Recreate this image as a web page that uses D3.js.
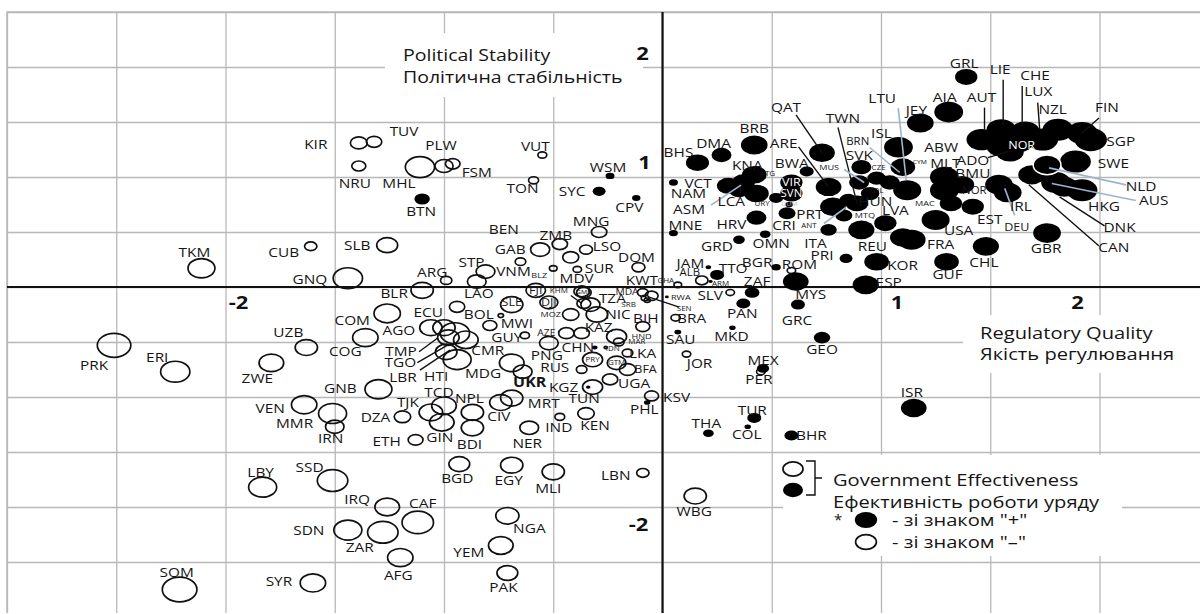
<!DOCTYPE html>
<html><head><meta charset="utf-8">
<script src="https://cdn.jsdelivr.net/npm/d3@7"></script>
<style>
body{margin:0;background:#fff}
svg{display:block}
text{font-family:"Open Sans","DejaVu Sans",sans-serif;fill:#151515}
</style>
</head><body>
<svg id="chart" width="1200" height="614"></svg>
<script>
// ---------- DATA ----------
// [country code, Regulatory Quality, Political Stability, |Government Effectiveness|]
// Government Effectiveness with sign "-" (open markers)
const govEffNegative = [
["PRK",-2.51,-0.53,2.18],["ERI",-2.23,-0.77,1.90],["TKM",-2.11,0.17,1.75],["CUB",-1.61,0.37,0.80],
["GNQ",-1.44,0.08,1.90],["SLB",-1.26,0.38,1.36],["KIR",-1.39,1.31,1.09],["TUV",-1.32,1.32,1.00],
["NRU",-1.39,1.10,0.91],["MHL",-1.11,1.09,1.90],["PLW",-1.00,1.10,1.18],["FSM",-0.96,1.12,0.95],
["VUT",-0.55,1.20,0.58],["TON",-0.59,0.97,0.65],["MNG",-0.29,0.50,1.00],["ZMB",-0.47,0.39,1.00],
["BEN",-0.42,0.27,1.04],["GAB",-0.56,0.34,1.24],["LSO",-0.35,0.34,0.84],["DOM",-0.11,0.18,0.84],
["BLZ",-0.50,0.17,0.50],["SUR",-0.39,0.16,0.55],["STP",-0.81,0.14,1.22],["LAO",-0.85,0.05,1.22],
["VNM",-0.65,0.23,0.69],["ARG",-0.99,0.06,0.73],["BLR",-1.10,-0.03,1.45],["FJI",-0.58,-0.03,1.27],
["DJI",-0.52,-0.14,1.16],["SLE",-0.69,-0.16,1.45],["ECU",-0.94,-0.18,1.00],["COM",-1.26,-0.24,1.71],
["COG",-1.36,-0.46,1.65],["AGO",-1.06,-0.37,1.45],["TMP",-1.00,-0.37,1.45],["LBR",-0.95,-0.42,1.90],
["TGO",-0.98,-0.46,1.40],["CMR",-0.90,-0.48,1.60],["MDG",-0.94,-0.66,1.82],["HTI",-0.99,-0.59,1.40],
["BOL",-0.74,-0.26,0.35],["MWI",-0.79,-0.35,0.91],["UZB",-1.63,-0.55,1.45],["ZWE",-1.79,-0.69,1.60],
["GNB",-1.30,-0.93,1.75],["VEN",-1.64,-1.07,1.65],["MMR",-1.51,-1.15,1.82],["IRN",-1.50,-1.27,1.20],
["DZA",-1.19,-1.18,1.07],["ETH",-1.13,-1.39,0.96],["TJK",-1.06,-1.14,1.53],["TCD",-1.00,-1.08,1.60],
["GIN",-1.01,-1.23,1.60],["NPL",-0.87,-1.14,1.45],["BDI",-0.87,-1.28,1.45],["CIV",-0.74,-1.05,1.45],
["MRT",-0.69,-1.01,1.45],["NER",-0.61,-1.28,1.22],["IND",-0.47,-1.18,0.64],["KEN",-0.35,-1.15,1.07],
["BGD",-0.93,-1.61,1.35],["EGY",-0.69,-1.62,1.45],["MLI",-0.50,-1.68,1.45],["LBN",-0.09,-1.69,0.80],
["NGA",-0.71,-2.08,1.51],["YEM",-0.74,-2.35,1.60],["PAK",-0.71,-2.60,1.35],["WBG",0.15,-1.90,1.45],
["LBY",-1.83,-1.82,1.82],["SSD",-1.51,-1.76,1.98],["IRQ",-1.26,-2.00,1.60],["SDN",-1.44,-2.21,1.82],
["ZAR",-1.28,-2.23,1.98],["CAF",-1.12,-2.14,2.04],["AFG",-1.20,-2.46,1.65],["SOM",-2.21,-2.75,2.25],
["SYR",-1.60,-2.69,1.65],["KSV",-0.05,-0.99,0.91],["UGA",-0.24,-0.84,1.00],["KGZ",-0.32,-0.91,1.30],
["BFA",-0.16,-0.75,1.07],["GTM",-0.21,-0.69,1.22],["PRY",-0.32,-0.66,1.30],["LKA",-0.16,-0.60,0.69],
["RUS",-0.69,-0.69,1.60],["UKR",-0.64,-0.77,1.22],["SWZ",-0.37,-0.75,0.69],["PNG",-0.52,-0.51,1.22],
["GUY",-0.63,-0.44,0.60],["AZE",-0.44,-0.42,1.00],["KAZ",-0.37,-0.42,1.00],["MOZ",-0.42,-0.25,1.07],
["TZA",-0.33,-0.16,1.24],["NIC",-0.30,-0.25,1.40],["MDV",-0.37,-0.04,1.00],["GMB",-0.36,-0.05,0.95],
["KHM",-0.36,-0.15,0.90],["MDA",-0.08,-0.10,0.50],["KWT",-0.09,-0.05,0.69],["SRB",-0.05,-0.08,0.84],
["SEN",-0.07,-0.12,0.40],["BIH",-0.09,-0.36,0.91],["HND",-0.21,-0.45,1.30],["MAR",-0.20,-0.50,0.69],
["IDN",-0.26,-0.55,0.20],["BRA",0.06,-0.28,0.60],["JOR",0.11,-0.61,0.55],["ALB",0.18,0.06,0.80],
["GHA",0.07,0.02,0.50],["SLV",0.31,-0.05,0.55],["ROM",0.59,0.15,0.55],["PER",0.45,-0.77,0.55]
];
// Government Effectiveness with sign "+" (filled markers)
const govEffPositive = [
["BTN",-1.10,0.80,1.00],["WSM",-0.24,1.01,0.58],["SYC",-0.29,0.87,0.84],["CPV",-0.12,0.81,0.55],
["PHL",-0.07,-1.05,0.42],["TUN",-0.34,-0.91,0.30],["RWA",0.02,-0.09,0.25],["CHN",-0.31,-0.55,0.36],
["SAU",0.07,-0.41,0.45],["PAN",0.37,-0.15,0.91],["MKD",0.32,-0.37,0.42],["MEX",0.46,-0.74,0.80],
["TUR",0.42,-1.19,0.91],["COL",0.39,-1.27,0.42],["THA",0.21,-1.33,0.69],["BHR",0.59,-1.35,0.91],
["ISR",1.15,-1.10,1.67],["GEO",0.73,-0.46,1.07],["GRC",0.62,-0.16,0.91],["MYS",0.61,0.05,1.67],
["ZAF",0.41,-0.05,0.96],["TTO",0.25,0.11,0.91],["JAM",0.21,0.18,0.36],["ARM",0.22,0.05,0.27],
["BGR",0.52,0.18,0.60],["GRD",0.35,0.43,0.76],["OMN",0.47,0.48,0.69],["MNE",0.05,0.49,0.58],
["NAM",0.05,0.95,0.58],["VCT",0.30,0.92,1.45],["HRV",0.43,0.63,1.30],["BHS",0.16,1.13,1.50],
["DMA",0.27,1.20,1.30],["BRB",0.42,1.29,1.73],["LCA",0.37,0.95,1.50],["KNA",0.42,1.02,1.60],
["ATG",0.43,0.85,1.60],["ASM",0.35,0.88,1.30],["URY",0.52,0.81,0.91],["BWA",0.66,1.05,0.91],
["VIR",0.59,0.95,1.45],["SVN",0.59,0.85,1.45],["GUM",0.58,0.75,0.50],["PRT",0.78,0.73,1.67],
["CRI",0.57,0.67,1.10],["ANT",0.83,0.65,1.10],["ITA",0.76,0.52,1.07],["PRI",0.84,0.26,0.84],
["QAT",0.73,1.22,1.67],["ARE",0.76,0.91,1.67],["TWN",0.89,0.76,1.45],["MUS",0.90,0.95,1.30],
["POL",0.95,0.85,1.20],["HUN",0.85,0.79,1.15],["SVK",0.91,1.09,1.30],["CZE",0.98,0.99,1.20],
["BRN",1.04,0.95,1.30],["LTU",1.12,0.88,1.82],["CYM",1.10,1.09,1.60],["ISL",1.08,1.27,1.87],
["JEY",1.18,1.49,1.73],["AIA",1.31,1.59,1.87],["GRL",1.39,1.91,1.45],["ABW",1.55,1.28,1.90],
["MLT",1.29,1.00,1.87],["NOR2",1.29,0.88,1.87],["MAC",1.32,0.76,1.45],["BMU",1.37,0.93,1.60],
["ADO",1.59,1.23,1.80],["EST",1.42,0.73,1.45],["USA",1.25,0.61,1.82],["FRA",1.14,0.43,1.82],
["LVA",1.02,0.58,1.45],["MTQ",1.10,0.45,1.67],["REU",0.91,0.52,1.70],["KOR",0.98,0.23,1.60],
["ESP",0.93,0.02,1.70],["GUF",1.30,0.23,1.60],["CHL",1.48,0.37,1.70],["GBR",1.76,0.49,1.80],
["IRL",1.54,0.93,1.80],["DEU",1.58,0.86,1.80],["AUT",1.46,1.34,1.95],["LIE",1.55,1.43,1.90],
["NOR",1.63,1.32,1.90],["LUX",1.66,1.41,1.90],["NZL",1.74,1.34,2.00],["CHE",1.81,1.43,2.00],
["FIN",1.92,1.40,2.00],["SGP",1.96,1.34,2.10],["SWE",1.89,1.14,2.00],["CAN",1.69,1.02,1.75],
["AUS",1.80,0.95,1.90],["DNK",1.84,0.91,1.80],["HKG",1.92,0.88,2.00],["NLD",1.76,1.11,1.80]
];
const xTickLabels = [-2, 1, 2];
const yTickLabels = [2, 1, -2];
const gridStep = 0.5;
const xTitle = ["Regulatory Quality", "Якість регулювання"];
const yTitle = ["Political Stability", "Політична стабільність"];
const legendTitle = ["Government Effectiveness", "Ефективність роботи уряду"];
const legendItems = ["- зі знаком \"+\"", "- зі знаком \"–\""];

// ---------- LAYOUT (label placement, px offsets from marker centre) ----------
const labelOffsets = {
PRK:[-20,20],ERI:[-18,-14],TKM:[-7,-16],CUB:[-27,6],GNQ:[-38,1],SLB:[-30,0],KIR:[-43,1],TUV:[30,-11],
NRU:[-4,17],MHL:[-21,16],PLW:[-3,-21],FSM:[24,8],BTN:[-1,12],VUT:[-7,-9],TON:[-11,8],WSM:[-2,-9],
SYC:[-27,0],CPV:[-7,9],MNG:[-8,-11],ZMB:[-4,-9],BEN:[-67,-28],GAB:[-30,0],LSO:[21,-3],DOM:[-2,-10],
BLZ:[-14,7,8],SUR:[22,-1],STP:[-14,-9],LAO:[2,12],VNM:[-7,10],ARG:[-14,-8],BLR:[-28,3],
FJI:[0,0,11],DJI:[0,0,11],SLE:[0,-2,11],ECU:[-29,5],COM:[-35,7],COG:[-20,14],AGO:[-32,3],
TMP:[-43,24],LBR:[-52,44],TGO:[-48,25],CMR:[22,10],MDG:[26,14],HTI:[-10,24],BOL:[-22,-1],MWI:[27,-2],
UZB:[-18,-15],ZWE:[-14,15],GNB:[-38,-1],VEN:[-34,4],MMR:[-38,10],IRN:[-4,12],DZA:[-27,0],ETH:[-29,1],
TJK:[-23,-10],TCD:[-5,-14],GIN:[-2,15],NPL:[-3,-14],BDI:[-3,16],CIV:[-2,14],MRT:[32,5],NER:[-2,15],
IND:[-1,10],KEN:[9,12],BGD:[-2,14],EGY:[-3,15],MLI:[-5,16],LBN:[-27,2],NGA:[22,12],YEM:[-32,7],
PAK:[-4,14],WBG:[-1,15],LBY:[-2,-15],SSD:[-23,-13],IRQ:[-30,-8],SDN:[-39,0],ZAR:[-23,15],CAF:[5,-19],
AFG:[-2,18],SOM:[-3,-17],SYR:[-34,-2],KSV:[25,1],PHL:[-3,7],UGA:[24,4],KGZ:[-29,0],TUN:[-4,11],
BFA:[18,0,11],GTM:[0,0,7],PRY:[0,0,7],LKA:[15,0],RUS:[43,4],UKR:[7,10,14,null,"bold"],PNG:[-2,12],
GUY:[-18,2],AZE:[-20,0,9],KAZ:[17,-6],MOZ:[-20,0,8],TZA:[22,-6],NIC:[21,0],MDV:[-5,-13],GMB:[0,-1,6],
KHM:[-25,-13,7],MDA:[-18,-6,9],KWT:[-1,-12],SRB:[-23,9,7],SEN:[37,8,7],RWA:[14,0,8],BIH:[3,-8],
HND:[25,0,8],MAR:[18,0,7],CHN:[-17,0],IDN:[7,1,7],BRA:[16,0],SAU:[3,7],JOR:[13,9],ALB:[-12,-8,10],
GHA:[-12,-4,7],SLV:[-20,3],ROM:[8,-6],PER:[-2,8],PAN:[-1,10],MKD:[-1,9],MEX:[0,-8],TUR:[-2,-8],
COL:[-1,8],THA:[-2,-10],BHR:[20,0],ISR:[-2,-16],GEO:[0,12],GRC:[-1,16],MYS:[15,13],ZAF:[5,-11],
TTO:[16,-7],JAM:[-18,-4],ARM:[10,2,7],BGR:[-19,-5],GRD:[-22,7],OMN:[6,9],MNE:[12,-8],NAM:[15,11],
VCT:[-30,-3],HRV:[-25,7],BHS:[-19,-10],DMA:[-8,-12],BRB:[0,-17],LCA:[-12,19],KNA:[-7,-10],
ATG:[11,-20,7],ASM:[-50,19],URY:[-14,6,7],BWA:[-15,-8],VIR:[0,0,11,"#fff"],SVN:[0,0,10,"#fff"],
GUM:[0,-1,6,"#bbb"],PRT:[-23,8],CRI:[-3,12],ANT:[-35,10,7],ITA:[-13,13],PRI:[-24,-3],QAT:[-36,-46],
ARE:[-45,-44],TWN:[-14,-85],MUS:[-30,-15,8],POL:[6,-3,7],HUN:[27,1],SVK:[-2,-12],CZE:[2,-11,7],
BRN:[-32,-41,10],LTU:[-25,-92],CYM:[17,-5,6],ISL:[-17,-14],JEY:[-4,-13],AIA:[-4,-15],GRL:[-2,-14],
ABW:[-60,1],MLT:[1,-14],NOR2:[30,0,10],MAC:[-26,0,8],BMU:[11,-11],ADO:[-37,9],EST:[17,13],
USA:[23,10],FRA:[29,5],LVA:[10,-13],MTQ:[-38,-22,8],REU:[11,16],KOR:[26,4],ESP:[23,-3],GUF:[1,13],
CHL:[-2,16],GBR:[-1,15],IRL:[22,22],DEU:[9,35,11],AUT:[0,-42],LIE:[-1,-60],NOR:[3,3,11,"#fff"],
LUX:[13,-41],NZL:[10,-30],CHE:[-23,-54],FIN:[25,-26],SGP:[30,2],SWE:[38,2],NLD:[94,21],CAN:[82,72],
AUS:[98,18],DNK:[55,40],HKG:[22,16]
};
// leader lines: [startDx,startDy,endDx,endDy,light]
const leaders = {
QAT:[-26,-38,0,0],ARE:[-30,-40,0,0],TWN:[-19,-76,0,0],LTU:[-9,-82,-1,-10,1],BRN:[-20,-35,10,-10,1],
MUS:[-15,-13,5,0,1],ANT:[-20,8,2,-8,1],ASM:[-28,15,2,-5,1],LCA:[-3,11,-2,0],AUT:[3,-32,3,-10],
LIE:[2,-50,2,-5],LUX:[-3,-46,-3,-5],NZL:[-5,-37,-3,-10],FIN:[17,-15,0,0],NLD:[79,20,2,3,1],
AUS:[80,18,-4,1,1],DNK:[40,39,-5,10],CAN:[67,71,-3,10],DEU:[7,23,-3,-4,1],ADO:[-22,6,-2,0],
TMP:[-25,24,-6,10],TGO:[-31,25,0,7],LBR:[-35,37,-5,17],SEN:[32,7,2,-3],KHM:[-13,-8,-2,0]
};

// ---------- CHART ----------
const svg = d3.select("#chart");
const x = d3.scaleLinear().domain([-3, 2.5]).range([7, 1208.75]);
const y = d3.scaleLinear().domain([-3, 2.5]).range([617, 12]);
const ryScale = d3.scaleLinear().domain([0, 1]).range([0, 5.5]);
const ASPECT = 1.4;
const TEXT_SX = 1.14, TITLE_SX = 1.22;
const gridVals = d3.range(-3, 2.5001, gridStep);
const pTop = 12, pBottom = 613, pLeft = 7, pRight = 1200;
const tr = (px, py, sx) => `translate(${px},${py}) scale(${sx},1)`;

svg.append("rect").attr("width",1200).attr("height",614).attr("fill","#fff");

// grid via axes
const gx = svg.append("g").attr("transform",`translate(0,${pBottom})`)
  .call(d3.axisBottom(x).tickValues(gridVals).tickSize(-(pBottom-pTop)).tickFormat(""));
const gy = svg.append("g").attr("transform",`translate(${pLeft},0)`)
  .call(d3.axisLeft(y).tickValues(gridVals.filter(v=>y(v)<=pBottom)).tickSize(-(pRight-pLeft)).tickFormat(""));
[gx,gy].forEach(g=>{g.select(".domain").remove();
  g.selectAll(".tick line").attr("stroke","#b8b8b8").attr("stroke-width",1.3);});

// border
svg.append("path").attr("d",`M${pLeft},${pBottom}V${pTop}H${pRight}`).attr("fill","none")
  .attr("stroke","#b8b8b8").attr("stroke-width",1.5);

// white text boxes covering the grid
svg.append("rect").attr("x",385).attr("y",33).attr("width",258).attr("height",64).attr("fill","#fff");
svg.append("rect").attr("x",963).attr("y",315).attr("width",240).attr("height",58).attr("fill","#fff");
svg.append("rect").attr("x",783).attr("y",455).attr("width",339).attr("height",101).attr("fill","#fff");

// main axes
svg.append("line").attr("x1",pLeft).attr("x2",pRight).attr("y1",y(0)).attr("y2",y(0))
  .attr("stroke","#111").attr("stroke-width",2);
svg.append("line").attr("x1",x(0)).attr("x2",x(0)).attr("y1",pTop).attr("y2",pBottom)
  .attr("stroke","#111").attr("stroke-width",2.2);

// tick labels
const xTickDx = {"-2":13,"1":16,"2":-22};
svg.selectAll(".xt").data(xTickLabels).join("text")
  .attr("transform",d=>tr(x(d)+xTickDx[d], y(0)+16, TITLE_SX)).attr("dy","0.35em")
  .attr("text-anchor","middle").attr("font-size",18).attr("font-weight","bold").style("fill","#111")
  .text(d=>d);
const yTickD = {"2":[-20,-13],"1":[-18,-14],"-2":[-24,18]};
svg.selectAll(".yt").data(yTickLabels).join("text")
  .attr("transform",d=>tr(x(0)+yTickD[d][0], y(d)+yTickD[d][1], TITLE_SX)).attr("dy","0.35em")
  .attr("text-anchor","middle").attr("font-size",18).attr("font-weight","bold").style("fill","#111")
  .text(d=>d);

// titles
svg.selectAll(".yttl").data(yTitle).join("text")
  .attr("transform",(d,i)=>tr(403, 55+i*22, TITLE_SX))
  .attr("dy","0.35em").attr("font-size",16).text(d=>d);
svg.selectAll(".xttl").data(xTitle).join("text")
  .attr("transform",(d,i)=>tr(980, 333+i*21, TITLE_SX))
  .attr("dy","0.35em").attr("font-size",16.5).text(d=>d);

// markers
const neg = govEffNegative.map(d=>({code:d[0],rq:d[1],ps:d[2],ge:-d[3]}));
const pos = govEffPositive.map(d=>({code:d[0],rq:d[1],ps:d[2],ge:d[3]}));
const all = neg.concat(pos);

svg.append("g").selectAll("ellipse").data(neg).join("ellipse")
  .attr("cx",d=>x(d.rq)).attr("cy",d=>y(d.ps))
  .attr("ry",d=>ryScale(-d.ge)).attr("rx",d=>ryScale(-d.ge)*ASPECT)
  .attr("fill","none").attr("stroke","#111").attr("stroke-width",1.7);
svg.append("g").selectAll("ellipse").data(pos).join("ellipse")
  .attr("cx",d=>x(d.rq)).attr("cy",d=>y(d.ps))
  .attr("ry",d=>ryScale(d.ge)).attr("rx",d=>ryScale(d.ge)*ASPECT)
  .attr("fill","#000")
  .attr("stroke",d=>d.code==="NLD"?"#fff":"none").attr("stroke-width",1.5);

// leader lines
const lead = all.filter(d=>leaders[d.code]);
svg.append("g").selectAll("line").data(lead).join("line")
  .attr("x1",d=>x(d.rq)+leaders[d.code][0]).attr("y1",d=>y(d.ps)+leaders[d.code][1])
  .attr("x2",d=>x(d.rq)+leaders[d.code][2]).attr("y2",d=>y(d.ps)+leaders[d.code][3])
  .attr("stroke",d=>leaders[d.code][4]?"#9fb4cc":"#111")
  .attr("stroke-width",d=>leaders[d.code][4]?1.6:1.4);

// labels
const lab = all.filter(d=>labelOffsets[d.code]);
svg.append("g").selectAll("text").data(lab).join("text")
  .attr("transform",d=>tr(x(d.rq)+labelOffsets[d.code][0], y(d.ps)+labelOffsets[d.code][1], TEXT_SX))
  .attr("dy","0.35em").attr("text-anchor","middle")
  .attr("font-size",d=>labelOffsets[d.code][2]||13.5)
  .attr("font-weight",d=>labelOffsets[d.code][4]||"normal")
  .style("fill",d=>labelOffsets[d.code][3]||"#151515")
  .text(d=>d.code.replace(/\d$/,""));

// legend
const lg = svg.append("g");
lg.append("ellipse").attr("cx",793).attr("cy",469).attr("rx",ryScale(1.3)*ASPECT).attr("ry",ryScale(1.3))
  .attr("fill","none").attr("stroke","#111").attr("stroke-width",1.7);
lg.append("ellipse").attr("cx",793).attr("cy",490).attr("rx",ryScale(1.3)*ASPECT).attr("ry",ryScale(1.3))
  .attr("fill","#000");
lg.append("path").attr("d","M806,461H815V495H806M815,478H822").attr("fill","none")
  .attr("stroke","#111").attr("stroke-width",1.4);
lg.selectAll(".lt").data(legendTitle).join("text")
  .attr("transform",(d,i)=>tr(833, 480+i*22, TITLE_SX))
  .attr("dy","0.35em").attr("font-size",16.5).text(d=>d);
lg.append("text").attr("transform",tr(838,520,1)).attr("dy","0.35em").attr("font-size",15)
  .attr("text-anchor","middle").text("*");
lg.append("ellipse").attr("cx",866).attr("cy",520).attr("rx",ryScale(1.45)*ASPECT).attr("ry",ryScale(1.45)).attr("fill","#000");
lg.append("ellipse").attr("cx",866).attr("cy",542).attr("rx",ryScale(1.35)*ASPECT).attr("ry",ryScale(1.35))
  .attr("fill","none").attr("stroke","#111").attr("stroke-width",1.7);
lg.selectAll(".li").data(legendItems).join("text")
  .attr("transform",(d,i)=>tr(892, 520+i*22, TITLE_SX))
  .attr("dy","0.35em").attr("font-size",16.5).text(d=>d);
</script>
</body></html>
